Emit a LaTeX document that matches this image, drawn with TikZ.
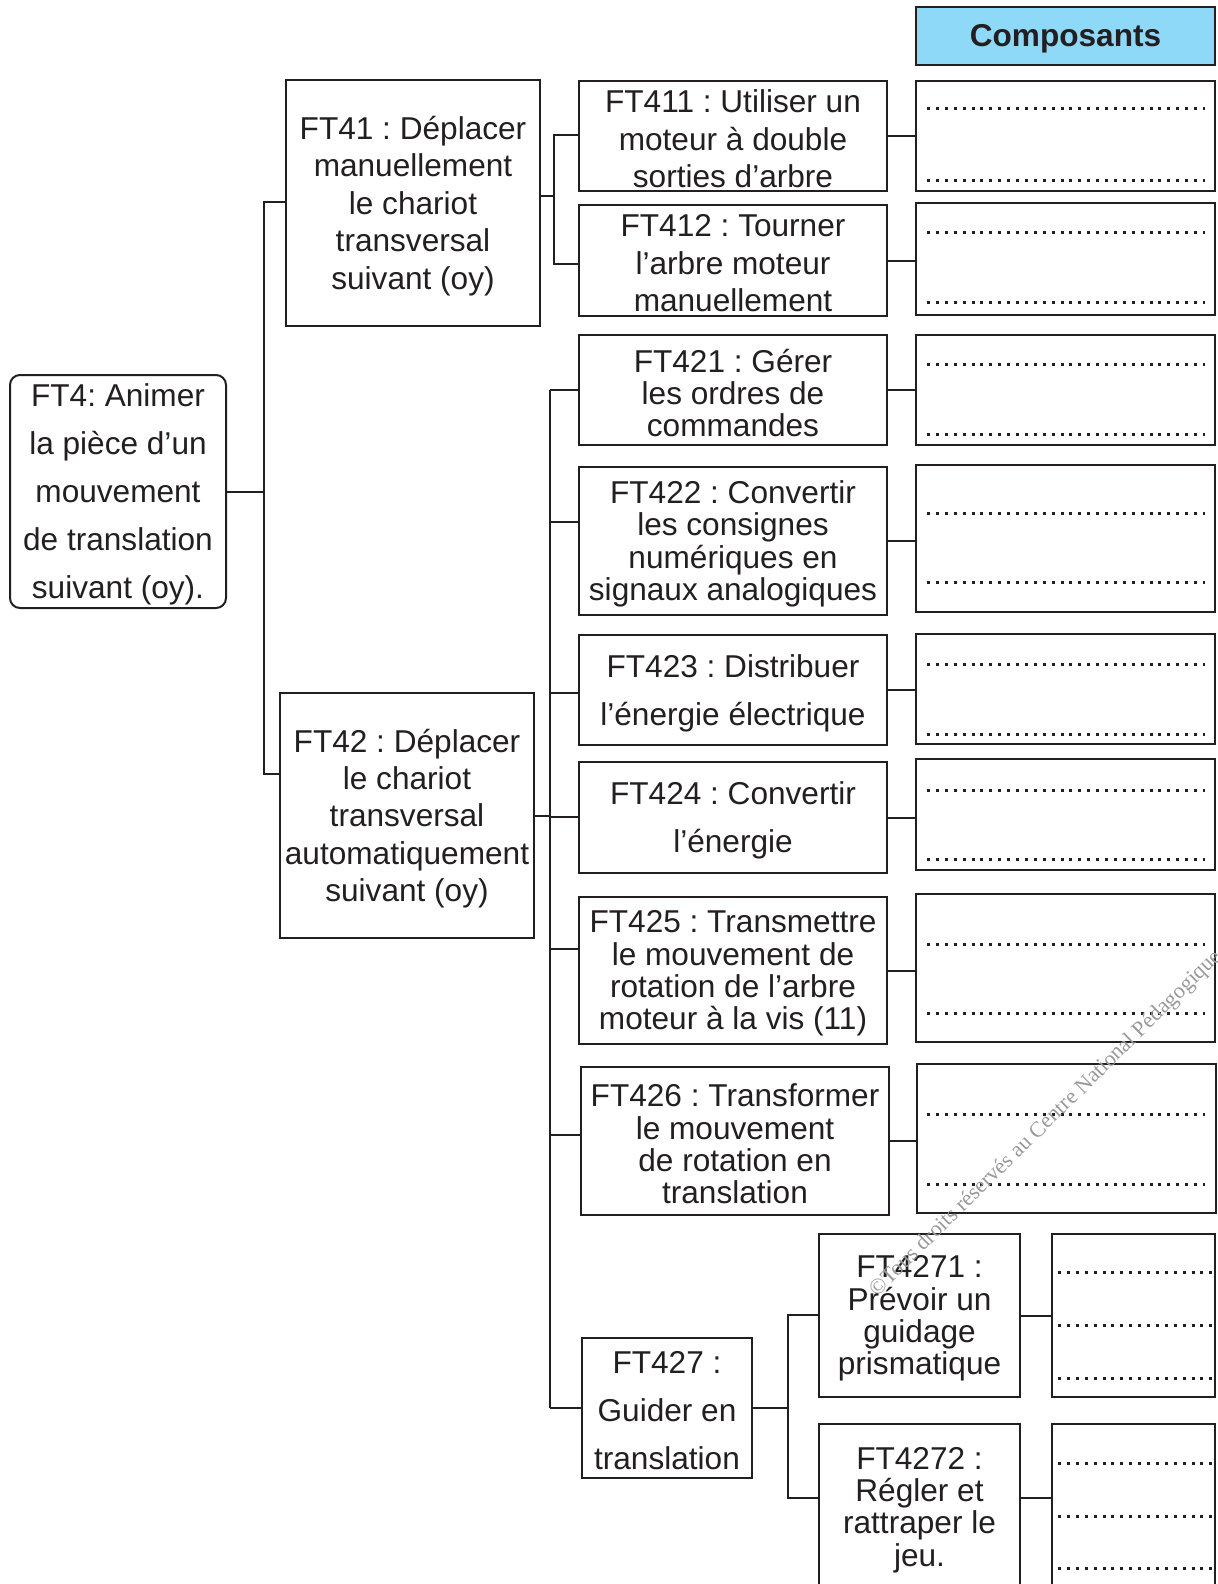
\documentclass[tikz,border=0pt]{standalone}
\usepackage{fontspec}
\setmainfont{Liberation Sans}
\newfontfamily\wmfont{Liberation Serif}
\frenchspacing
\definecolor{ink}{HTML}{231F20}
\definecolor{headblue}{HTML}{8ED8F8}

\tikzset{
  fbox/.style={draw=ink, line width=1pt, inner sep=0pt, outer sep=0pt},
  ftext/.style={inner sep=0pt, align=center, text=ink,
    font=\fontsize{15.8}{18.7}\selectfont},
  ls16/.style={font=\fontsize{15.8}{16.2}\selectfont},
  ls24/.style={font=\fontsize{15.8}{24}\selectfont},
  conn/.style={draw=ink, line width=1pt},
  dotrow/.style={draw=ink, line width=1.5pt, dash pattern=on 1.5pt off 2.95pt},
}

% box from its corners (x1,y1)-(x2,y2), in pixel units, with its text
\newcommand\fbx[8]{%
  \pgfmathsetmacro\fbW{(#4-#2)*0.5}%
  \pgfmathsetmacro\fbH{(#5-#3)*0.5}%
  \node[fbox,minimum width=\fbW pt,minimum height=\fbH pt,#6] (#1)
    at ({(#2+#4)/2},{(#3+#5)/2}) {};%
  \node[ftext,#7] (#1-t) at ([yshift=-1.5pt]#1.center) {#8};%
}
% empty answer box
\newcommand\cbx[5]{%
  \pgfmathsetmacro\fbW{(#4-#2)*0.5}%
  \pgfmathsetmacro\fbH{(#5-#3)*0.5}%
  \node[fbox,minimum width=\fbW pt,minimum height=\fbH pt] (#1)
    at ({(#2+#4)/2},{(#3+#5)/2}) {};%
}

\begin{document}
\begin{tikzpicture}[x=0.5pt,y=-0.5pt]
\clip (0,0) rectangle (1217,1584);
\fill[white] (0,0) rectangle (1217,1584);

% header
\fbx{head}{916}{7}{1215}{65}{fill=headblue}{font=\bfseries\fontsize{15.8}{18.7}\selectfont}{Composants}

% functions
\fbx{FT4}{10}{375}{226}{608}{rounded corners=5pt}{ls24}{FT4: Animer\\la pièce d’un\\mouvement\\de translation\\suivant (oy).}
\fbx{FT41}{286}{80}{540}{326}{}{}{FT41 : Déplacer\\manuellement\\le chariot\\transversal\\suivant (oy)}
\fbx{FT42}{280}{693}{534}{938}{}{}{FT42 : Déplacer\\le chariot\\transversal\\automatiquement\\suivant (oy)}
\fbx{FT411}{579}{81}{887}{191}{}{}{FT411 : Utiliser un\\moteur à double\\sorties d’arbre}
\fbx{FT412}{579}{205}{887}{316}{}{}{FT412 : Tourner\\l’arbre moteur\\manuellement}
\fbx{FT421}{579}{335}{887}{445}{}{ls16}{FT421 : Gérer\\les ordres de\\commandes}
\fbx{FT422}{579}{467}{887}{615}{}{ls16}{FT422 : Convertir\\les consignes\\numériques en\\signaux analogiques}
\fbx{FT423}{579}{635}{887}{745}{}{ls24}{FT423 : Distribuer\\l’énergie électrique}
\fbx{FT424}{579}{762}{887}{873}{}{ls24}{FT424 : Convertir\\l’énergie}
\fbx{FT425}{579}{897}{887}{1044}{}{ls16}{FT425 : Transmettre\\le mouvement de\\rotation de l’arbre\\moteur à la vis (11)}
\fbx{FT426}{581}{1067}{889}{1215}{}{ls16}{FT426 : Transformer\\le mouvement\\de rotation en\\translation}
\fbx{FT427}{582}{1338}{752}{1478}{}{ls24}{FT427 :\\Guider en\\translation}
\fbx{FT4271}{819}{1234}{1020}{1397}{}{ls16}{FT4271 :\\Prévoir un\\guidage\\prismatique}
\fbx{FT4272}{819}{1424}{1020}{1590}{}{ls16}{FT4272 :\\Régler et\\rattraper le\\jeu.}

% component boxes
\cbx{C1}{916}{81}{1215}{191}
\cbx{C2}{916}{203}{1215}{315}
\cbx{C3}{916}{335}{1215}{445}
\cbx{C4}{916}{465}{1215}{612}
\cbx{C5}{916}{634}{1215}{744}
\cbx{C6}{916}{759}{1215}{870}
\cbx{C7}{916}{894}{1215}{1042}
\cbx{C8}{917}{1064}{1216}{1213}
\cbx{C9}{1052}{1234}{1215}{1397}
\cbx{C10}{1052}{1424}{1215}{1590}

% dotted answer lines
\foreach \y in {109,180,232,302,364,434,513,582,664,734,790,859,944,1013,1114,1184}
  \draw[dotrow] (927,\y) -- (1205,\y);
\foreach \y in {1272,1325,1378,1463,1516,1568}
  \draw[dotrow] (1058,\y) -- (1212,\y);

% FT4 -> FT41, FT42
\coordinate (jA) at (264,202);
\coordinate (jB) at (264,774);
\draw[conn] (FT4.east) -- (FT4.east -| jA);
\draw[conn] (FT41.west |- jA) -- (jA) -- (jB) -- (FT42.west |- jB);

% FT41 -> FT411, FT412
\coordinate (kM) at (554,196);
\coordinate (kA) at (554,135);
\coordinate (kB) at (554,264);
\draw[conn] (kM -| FT41.east) -- (kM);
\draw[conn] (FT411.west |- kA) -- (kA) -- (kB) -- (FT412.west |- kB);

% FT42 -> FT421 ... FT427
\coordinate (m1) at (550,390);
\coordinate (m2) at (550,522);
\coordinate (m3) at (550,693);
\coordinate (m4) at (550,817);
\coordinate (m5) at (550,949);
\coordinate (m6) at (550,1135);
\coordinate (m7) at (550,1408);
\draw[conn] (m1) -- (m7);
\draw[conn] (FT42.east) -- (FT42.east -| m4);
\foreach \n/\c in {FT421/m1,FT422/m2,FT423/m3,FT424/m4,FT425/m5,FT426/m6,FT427/m7}
  \draw[conn] (\c) -- (\c -| \n.west);

% FT427 -> FT4271, FT4272
\coordinate (p1) at (788,1315);
\coordinate (p2) at (788,1498);
\draw[conn] (FT427.east) -- (FT427.east -| p1);
\draw[conn] (FT4271.west |- p1) -- (p1) -- (p2) -- (FT4272.west |- p2);

% functions -> components
\foreach \a/\b in {FT411/C1,FT412/C2,FT421/C3,FT422/C4,FT423/C5,FT424/C6,FT425/C7,FT426/C8,FT4271/C9}
  \draw[conn] (\a.east) -- (\a.east -| \b.west);
\draw[conn] (FT4272.east |- p2) -- (C10.west |- p2);

% copyright mark
\node[rotate=44.5, text=black!40, font=\wmfont\fontsize{11}{13}\selectfont, inner sep=0pt]
  (wm) at (1046,1124) {©Tous droits réservés au Centre National Pédagogique};
\end{tikzpicture}
\end{document}
